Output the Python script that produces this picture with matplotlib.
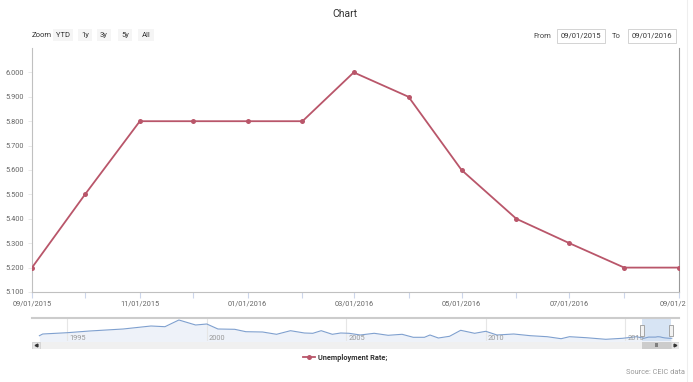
import numpy as np
import matplotlib
matplotlib.use("Agg")
import matplotlib.pyplot as plt
import matplotlib.dates as mdates
from matplotlib.patches import Rectangle
from matplotlib.transforms import Bbox, TransformedBbox

# main series (monthly)
months = ["2015-09-01", "2015-10-01", "2015-11-01", "2015-12-01", "2016-01-01",
          "2016-02-01", "2016-03-01", "2016-04-01", "2016-05-01", "2016-06-01",
          "2016-07-01", "2016-08-01", "2016-09-01"]
rate = [5.2, 5.5, 5.8, 5.8, 5.8, 5.8, 6.0, 5.9, 5.6, 5.4, 5.3, 5.2, 5.2]

y_ticks = [5.1, 5.2, 5.3, 5.4, 5.5, 5.6, 5.7, 5.8, 5.9, 6.0]

# navigator history (estimated from the small overview strip)
nav_years = [1994.0, 1994.12, 1995.0, 1995.8, 1997.0, 1998.0, 1998.5, 1999.0, 1999.6,
             2000.0, 2000.4, 2001.0, 2001.4, 2002.0, 2002.5, 2003.0, 2003.5, 2003.8,
             2004.1, 2004.5, 2004.8, 2005.1, 2005.5, 2006.0, 2006.5, 2007.0, 2007.4,
             2007.8, 2008.0, 2008.3, 2008.7, 2009.1, 2009.6, 2010.0, 2010.4, 2011.0,
             2011.6, 2012.2, 2012.7, 2013.0, 2013.6, 2014.3, 2014.9, 2015.4]
nav_values = [6.5, 7.35, 8.0, 8.85, 9.85, 11.35, 11.0, 14.35, 11.85,
              12.35, 9.85, 9.7, 8.5, 8.35, 7.2, 9.0, 7.85, 7.7,
              9.0, 7.2, 7.85, 7.7, 6.85, 7.7, 6.7, 7.2, 5.7,
              5.7, 6.85, 5.35, 6.2, 9.2, 7.7, 8.7, 6.85, 7.35,
              6.5, 6.0, 5.0, 6.0, 5.5, 4.7, 5.2, 6.0]
nav_year_labels = [1995, 2000, 2005, 2010, 2015]

W, H = 693, 382
fig = plt.figure(figsize=(W / 100, H / 100), dpi=100)
plt.rcParams["font.family"] = ["Roboto", "DejaVu Sans"]


def fx(px):
    return px / W


def fy(py):
    return 1 - py / H


line_color = "#b9566a"
grey_text = "#666666"

# main plot
x = np.array(months, dtype="datetime64[D]")
ax = fig.add_axes([fx(32), fy(292), fx(679 - 32), (292 - 48) / H])
ax.plot(x, rate, color=line_color, linewidth=1.3, marker="o", markersize=3.6,
        markeredgewidth=0, zorder=3)
ax.set_xlim(x[0], x[-1])
ax.set_ylim(5.1, 6.1)
ax.set_yticks(y_ticks)
ax.set_yticklabels(["%.3f" % v for v in y_ticks], fontsize=5.3, color=grey_text)
ax.set_xticks(x)
ax.set_xticklabels([mdates.num2date(mdates.date2num(d)).strftime("%m/%d/%Y") if i % 2 == 0 else ""
                    for i, d in enumerate(x)], fontsize=5.3, color=grey_text)
ax.tick_params(axis="x", direction="out", length=4, width=0.8, color="#ccd6eb", pad=2)
ax.tick_params(axis="y", direction="out", length=3, width=0.6, color="#e6e6e6", pad=3)
ax.spines["top"].set_visible(False)
ax.spines["left"].set_color("#c0c0c0")
ax.spines["left"].set_linewidth(0.8)
ax.spines["bottom"].set_color("#c0c0c0")
ax.spines["bottom"].set_linewidth(0.8)
ax.spines["right"].set_color("#999999")
ax.spines["right"].set_linewidth(0.8)
# the last date label is cut by the chart container, as in the original
for lab in ax.get_xticklabels():
    lab.set_clip_on(True)
    lab.set_clip_box(TransformedBbox(Bbox.from_extents(0, 0, fx(686), 1), fig.transFigure))

ax.legend(["Unemployment Rate;"], loc="center", bbox_to_anchor=(fx(345), fy(358)),
          bbox_transform=fig.transFigure, frameon=False, handlelength=1.6,
          handletextpad=0.4, prop={"size": 5.3, "weight": "bold"}, labelcolor="#333333")

# navigator
nav_x = list(nav_years) + [int(m[:4]) + (int(m[5:7]) - 1) / 12 for m in months]
nav_y = list(nav_values) + rate
nav = fig.add_axes([fx(32), fy(341), fx(679 - 32), (341 - 318) / H])
nav.fill_between(nav_x, nav_y, 0, color="#eef2f9", linewidth=0)
nav.plot(nav_x, nav_y, color="#7fa0cf", linewidth=0.8)
nav.set_xlim(1993.735, 2016.925)
nav.set_ylim(3.85, 15.35)
nav.set_xticks(nav_year_labels)
nav.grid(axis="x", color="#e6e6e6", linewidth=0.8)
nav.tick_params(left=False, bottom=False, labelleft=False, labelbottom=False)
for yr in nav_year_labels:
    nav.text(yr + 0.08, 5.0, str(yr), fontsize=5.3, color="#999999", ha="left", va="center")
nav.axvspan(2015.6, 2016.63, color="#d3e1f3", alpha=0.9, linewidth=0)
for hx in [2015.6, 2016.63]:
    nav.add_patch(Rectangle((hx - 0.07, 0.2), 0.14, 0.5, transform=nav.get_xaxis_transform(),
                            facecolor="#f2f2f2", edgecolor="#999999", linewidth=0.6, zorder=4))
for s in ["left", "right", "bottom"]:
    nav.spines[s].set_visible(False)
nav.spines["top"].set_color("#cccccc")
nav.spines["top"].set_linewidth(1.5)

# scrollbar
sb = fig.add_axes([fx(32), fy(349), fx(679 - 32), (349 - 341.5) / H])
sb.set_facecolor("#f0f0f0")
sb.set_xlim(1993.735, 2016.925)
sb.set_ylim(0, 1)
sb.axvspan(2015.6, 2016.63, color="#cccccc", linewidth=0)
sb.text((2015.6 + 2016.63) / 2, 0.5, "III", fontsize=4, color="#333333", ha="center", va="center")
sb.axvspan(1993.735, 1993.735 + 0.3, color="#e6e6e6", ec="#cccccc", linewidth=0.5)
sb.axvspan(2016.63, 2016.925, color="#e6e6e6", ec="#cccccc", linewidth=0.5)
sb.plot([1993.735 + 0.15], [0.5], marker="<", markersize=2, color="#333333")
sb.plot([2016.78], [0.5], marker=">", markersize=2, color="#333333")
sb.set_xticks([])
sb.set_yticks([])
for s in sb.spines.values():
    s.set_visible(False)

# title and controls
fig.text(fx(345), fy(14), "Chart", fontsize=7.5, color="#333333", ha="center", va="center")
fig.text(fx(32), fy(35), "Zoom", fontsize=5.5, color="#333333", ha="left", va="center")
for label, cx in [("YTD", 63), ("1y", 85), ("3y", 104), ("5y", 125), ("All", 146)]:
    fig.text(fx(cx), fy(35), label, fontsize=5.5, color="#333333", ha="center", va="center",
             bbox=dict(boxstyle="square,pad=0.45", fc="#f5f5f5", ec="none"))
fig.text(fx(551), fy(36), "From", fontsize=5.5, color="#444444", ha="right", va="center")
fig.text(fx(581), fy(36), "09/01/2015", fontsize=5.5, color="#333333", ha="center", va="center",
         bbox=dict(boxstyle="square,pad=0.5", fc="white", ec="#cccccc", lw=0.6))
fig.text(fx(621), fy(36), "To", fontsize=5.5, color="#444444", ha="right", va="center")
fig.text(fx(652), fy(36), "09/01/2016", fontsize=5.5, color="#333333", ha="center", va="center",
         bbox=dict(boxstyle="square,pad=0.5", fc="white", ec="#cccccc", lw=0.6))
fig.text(fx(685), fy(373), "Source: CEIC data", fontsize=5.3, color="#999999", ha="right", va="center")
fig.add_artist(plt.Line2D([fx(687), fx(687)], [0, 1], color="#eeeeee", linewidth=0.8))

fig.savefig("out.png", dpi=100)
